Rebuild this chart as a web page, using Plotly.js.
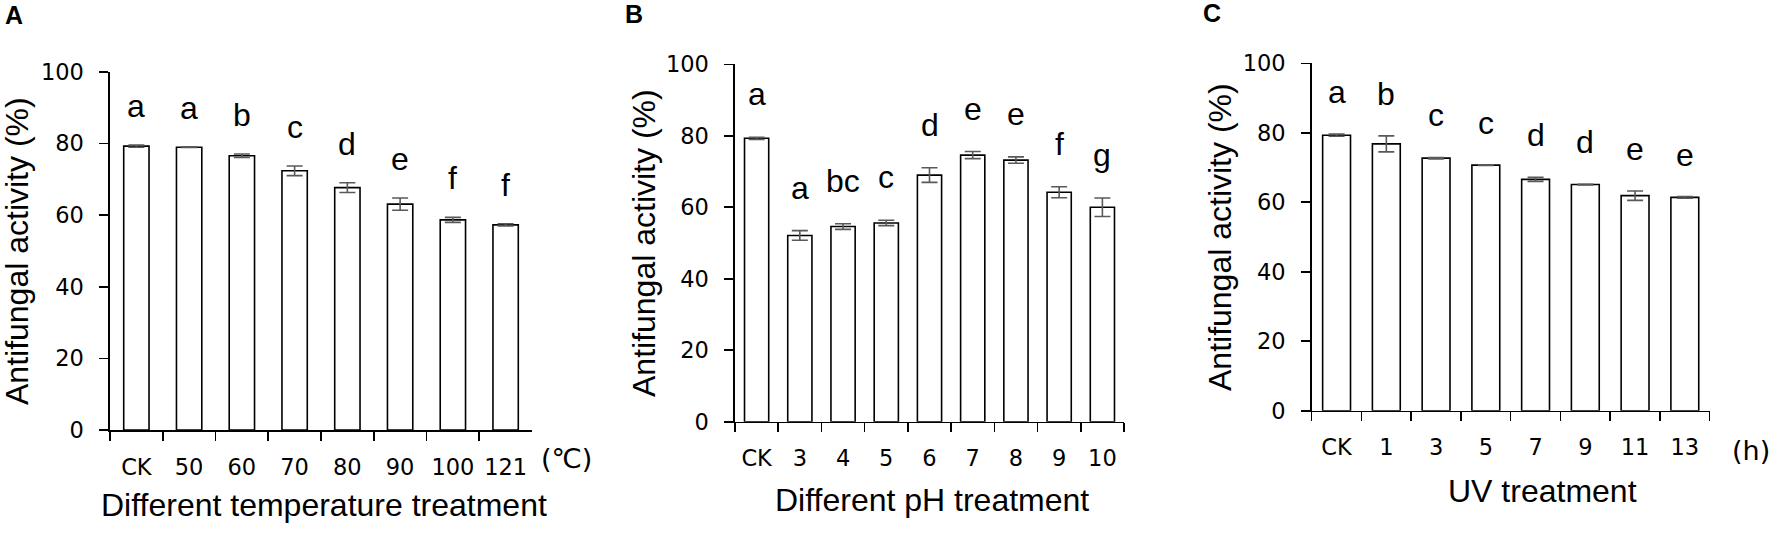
<!DOCTYPE html>
<html>
<head>
<meta charset="utf-8">
<script src="https://cdn.plot.ly/plotly-3.0.1.min.js"></script>
<style>
html,body{margin:0;padding:0;background:#fff;}
#chart{width:1772px;height:535px;}
</style>
</head>
<body>
<div id="chart"></div>
<script>
// ---- data ----
const catsA = ['CK','50','60','70','80','90','100','121'];
const valsA = [79.3, 79.0, 76.6, 72.4, 67.7, 63.1, 58.7, 57.3];
const errsA = [0.3, 0.1, 0.5, 1.35, 1.35, 1.7, 0.7, 0.3];
const lettersA = ['a','a','b','c','d','e','f','f'];

const catsB = ['CK','3','4','5','6','7','8','9','10'];
const valsB = [79.3, 52.1, 54.6, 55.6, 69.0, 74.6, 73.2, 64.2, 60.0];
const errsB = [0.3, 1.35, 0.8, 0.75, 2.05, 1.0, 0.9, 1.55, 2.6];
const lettersB = ['a','a','bc','c','d','e','e','f','g'];

const catsC = ['CK','1','3','5','7','9','11','13'];
const valsC = [79.3, 76.8, 72.7, 70.7, 66.6, 65.1, 61.9, 61.4];
const errsC = [0.3, 2.3, 0.2, 0.1, 0.6, 0.1, 1.35, 0.25];
const lettersC = ['a','b','c','c','d','d','e','e'];

const yTicks = [0, 20, 40, 60, 80, 100];
const yTitle = 'Antifungal activity (%)';
const xTitles = ['Different temperature treatment', 'Different pH treatment', 'UV treatment'];
const units = ['(℃)', '', '(h)'];
const panelLabels = ['A', 'B', 'C'];

// ---- styling ----
const W = 1772, H = 535;
const tickFont = {family: "'DejaVu Sans', 'Open Sans', sans-serif", size: 22.5, color: '#000'};
const textFont = {family: "'Liberation Sans', Arial, sans-serif", size: 32, color: '#000'};
const panels = [
  {cats: catsA, vals: valsA, errs: errsA, letters: lettersA, px: [110, 532], py: [72, 430], gap: 0.52, lgap: 19,
   xt: [324, 505], yt: 17, unit: [566, 458], lab: [14, 15]},
  {cats: catsB, vals: valsB, errs: errsB, letters: lettersB, px: [735, 1124], py: [64.3, 421.7], gap: 0.44, lgap: 23,
   xt: [932, 500], yt: 644, unit: null, lab: [634, 14]},
  {cats: catsC, vals: valsC, errs: errsC, letters: lettersC, px: [1311.7, 1709.7], py: [63.3, 410.7], gap: 0.44, lgap: 22,
   xt: [1542, 491], yt: 1220, unit: [1751, 450], lab: [1212, 13]}
];

const traces = [];
const layout = {
  width: W, height: H,
  margin: {l: 0, r: 0, t: 0, b: 0},
  paper_bgcolor: '#fff', plot_bgcolor: '#fff',
  showlegend: false,
  annotations: []
};

panels.forEach((p, i) => {
  const n = i + 1;
  const xa = n === 1 ? 'x' : 'x' + n;
  const ya = n === 1 ? 'y' : 'y' + n;
  traces.push({
    type: 'bar', x: p.cats, y: p.vals, xaxis: xa, yaxis: ya,
    width: p.cats.map(() => 1 - p.gap),
    marker: {color: '#fff', line: {color: '#000', width: 1.6}},
    error_y: {type: 'data', array: p.errs, visible: true, color: '#595959', thickness: 1.6, width: 8},
    hoverinfo: 'skip'
  });
  const xk = n === 1 ? 'xaxis' : 'xaxis' + n;
  const yk = n === 1 ? 'yaxis' : 'yaxis' + n;
  layout[xk] = {
    domain: [p.px[0] / W, p.px[1] / W], anchor: ya, type: 'category',
    range: [-0.5, p.cats.length - 0.5], autorange: false,
    showline: true, linecolor: '#000', linewidth: 1.6,
    ticks: 'outside', ticklen: 9, tickwidth: 1.6, tickcolor: '#000', tickson: 'boundaries',
    tickangle: 0, tickfont: tickFont, showgrid: false, zeroline: false, fixedrange: true,
    ticklabelstandoff: 16
  };
  layout[yk] = {
    domain: [(H - p.py[1]) / H, (H - p.py[0]) / H], anchor: xa,
    range: [0, 100], autorange: false, tickmode: 'array', tickvals: yTicks,
    showline: true, linecolor: '#000', linewidth: 1.6,
    ticks: 'outside', ticklen: 9, tickwidth: 1.6, tickcolor: '#000',
    tickfont: tickFont, showgrid: false, zeroline: false, fixedrange: true,
    ticklabelstandoff: 11
  };
  // significance letters (x given as category index)
  p.cats.forEach((c, j) => {
    layout.annotations.push({
      xref: xa, yref: ya, x: j, y: p.vals[j] + p.errs[j], text: p.letters[j],
      showarrow: false, yanchor: 'bottom', yshift: p.lgap, font: textFont
    });
  });
  // axis titles
  layout.annotations.push({
    xref: 'paper', yref: 'paper', x: p.xt[0] / W, y: (H - p.xt[1]) / H, text: xTitles[i],
    showarrow: false, xanchor: 'center', yanchor: 'middle', font: textFont
  });
  layout.annotations.push({
    xref: 'paper', yref: 'paper', x: p.yt / W, y: (H - (p.py[0] + p.py[1]) / 2) / H, text: yTitle,
    showarrow: false, xanchor: 'center', yanchor: 'middle', textangle: -90, font: textFont
  });
  if (units[i]) {
    layout.annotations.push({
      xref: 'paper', yref: 'paper', x: p.unit[0] / W, y: (H - p.unit[1]) / H, text: units[i],
      showarrow: false, xanchor: 'center', yanchor: 'middle',
      font: {family: "'DejaVu Sans', 'Open Sans', sans-serif", size: 27, color: '#000'}
    });
  }
  layout.annotations.push({
    xref: 'paper', yref: 'paper', x: p.lab[0] / W, y: (H - p.lab[1]) / H, text: '<b>' + panelLabels[i] + '</b>',
    showarrow: false, xanchor: 'center', yanchor: 'middle',
    font: {family: "'Liberation Sans', Arial, sans-serif", size: 25, color: '#000'}
  });
});

Plotly.newPlot('chart', traces, layout, {displayModeBar: false, staticPlot: true});
</script>
</body>
</html>
